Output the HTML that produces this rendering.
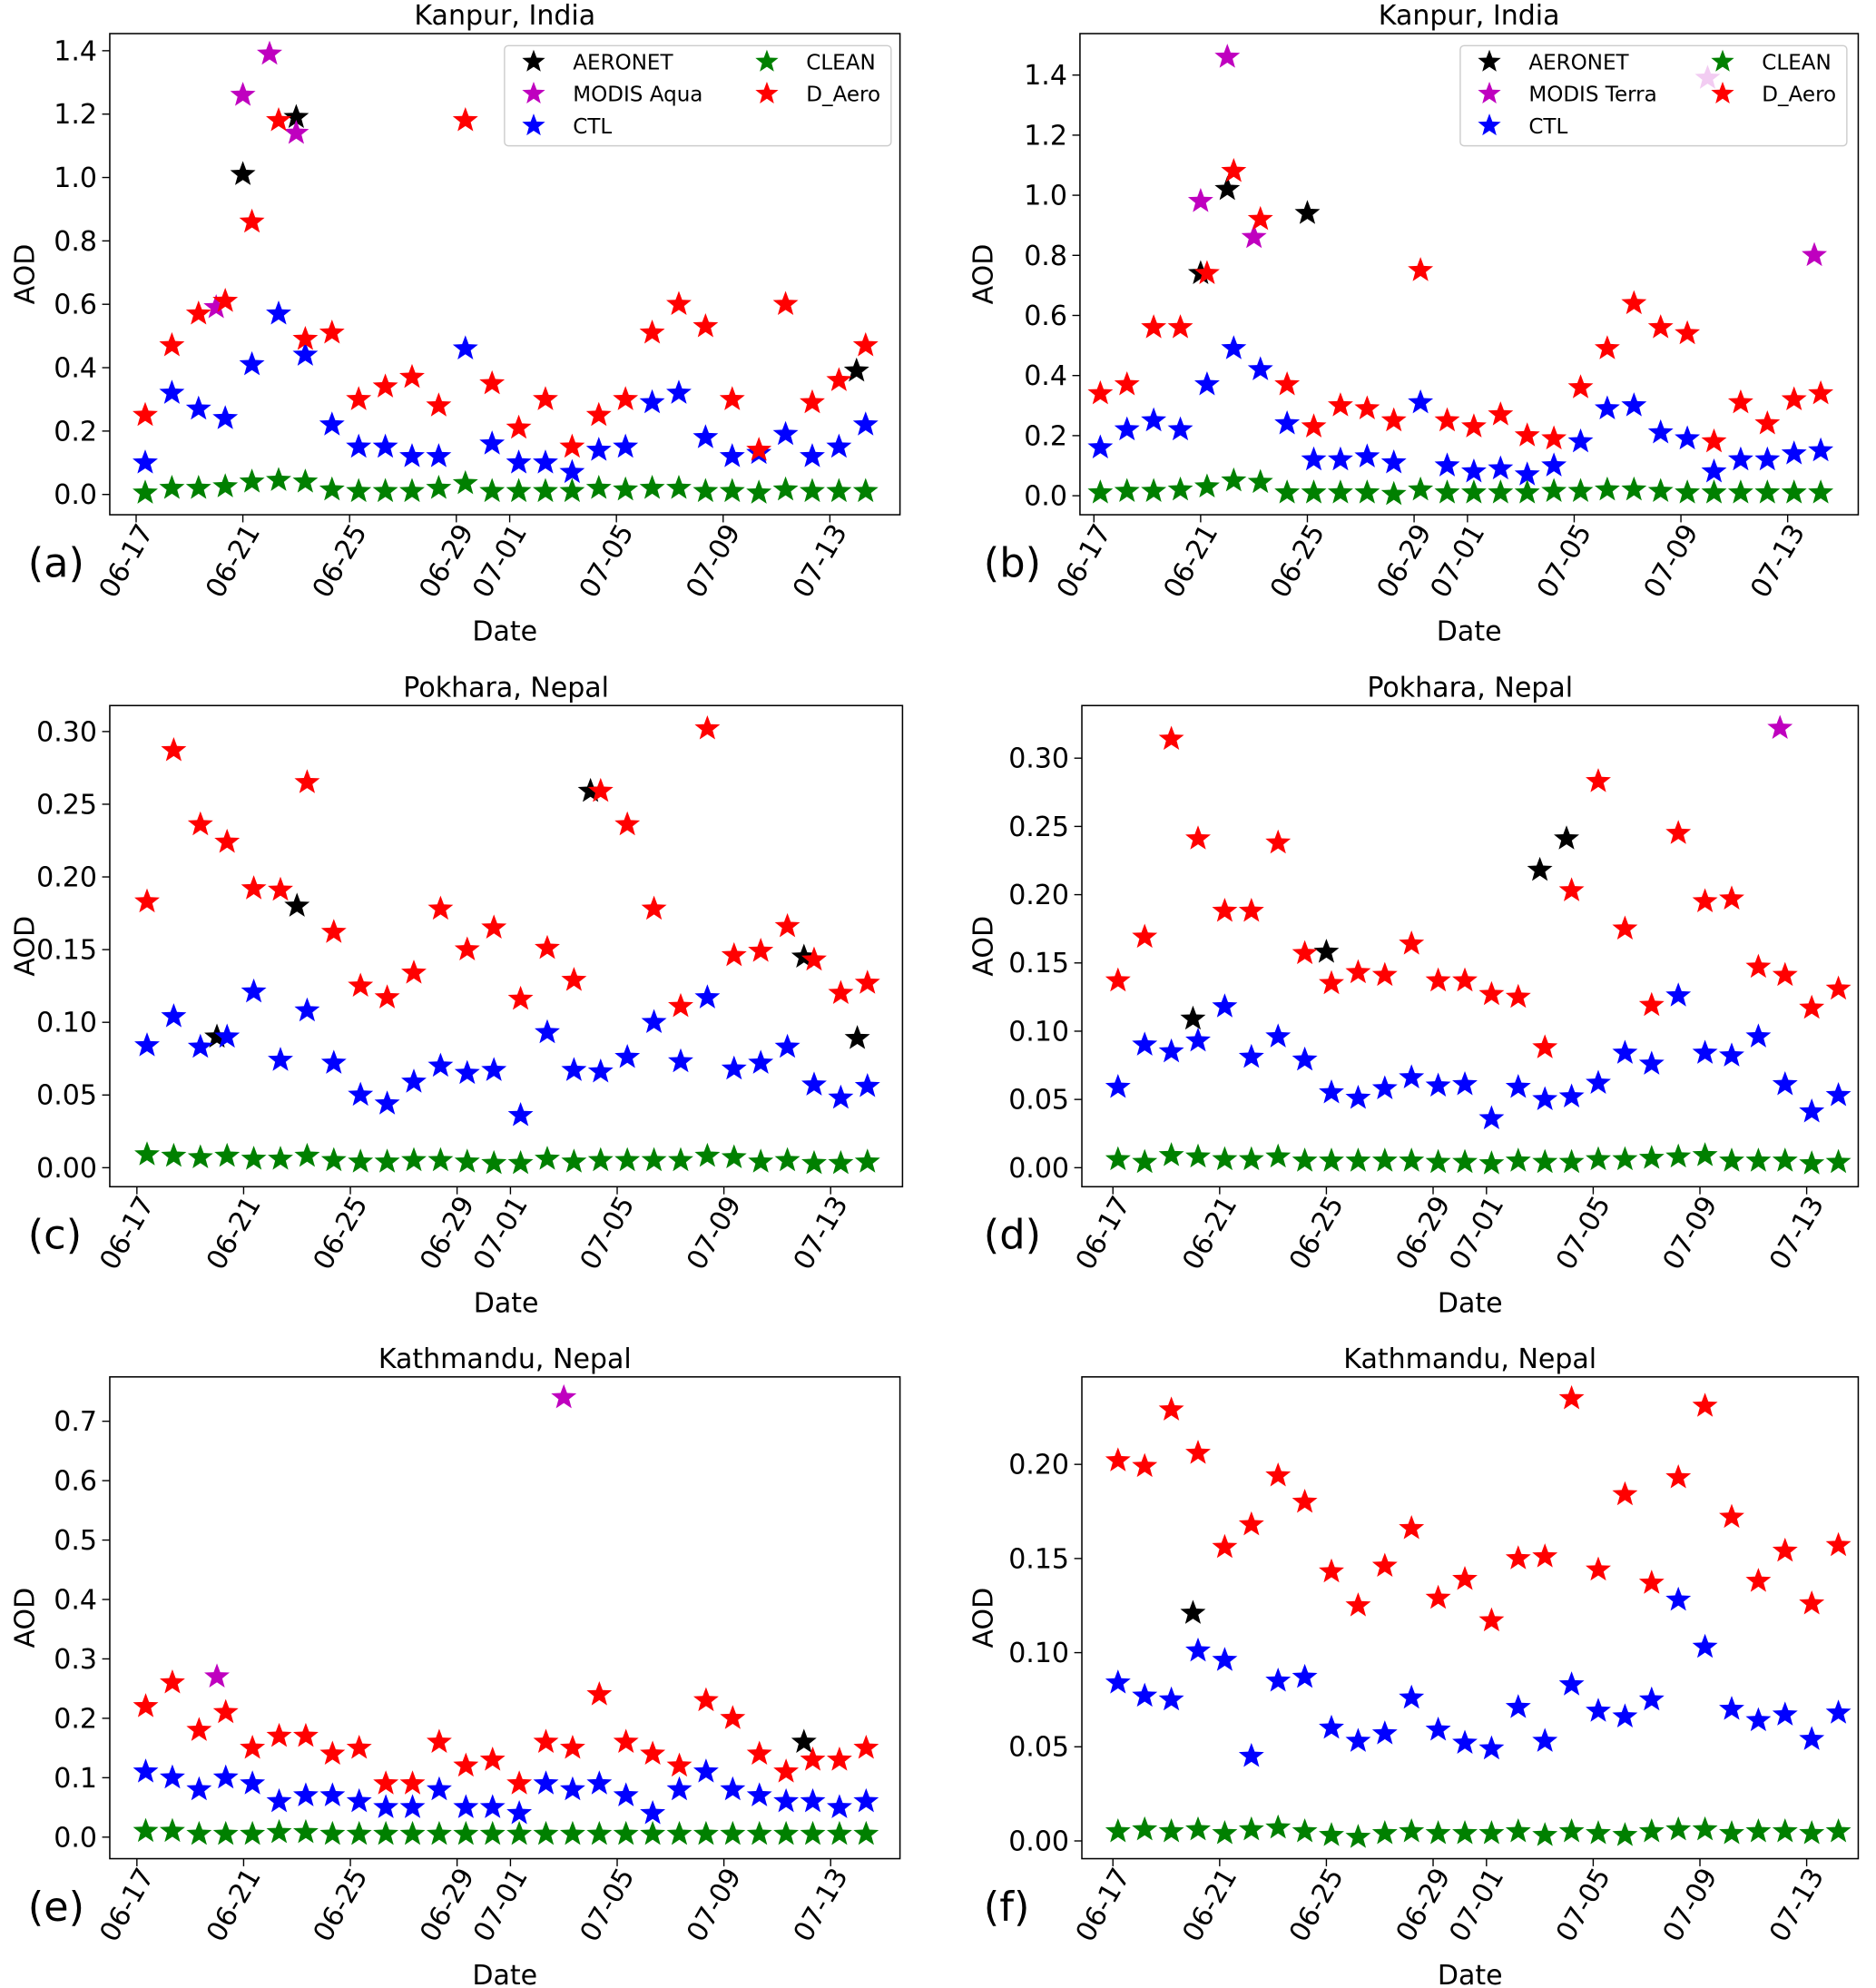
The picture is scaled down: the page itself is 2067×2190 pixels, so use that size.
<!DOCTYPE html>
<html><head><meta charset="utf-8"><style>
html,body{margin:0;padding:0;background:#fff;}
svg{display:block;font-family:"DejaVu Sans","Liberation Sans",sans-serif;}
</style></head><body>
<svg id="fig" width="2067" height="2190" viewBox="0 0 1480 1568" preserveAspectRatio="none" xmlns="http://www.w3.org/2000/svg"></svg>
<script>
// ---------- data ----------
const tickDays = [0,4,8,12,14,18,22,26];
const tickLabels = ["06-17","06-21","06-25","06-29","07-01","07-05","07-09","07-13"];

const aClean = [0.005,0.02,0.02,0.025,0.04,0.045,0.04,0.015,0.01,0.01,0.01,0.02,0.035,0.01,0.01,0.01,0.01,0.02,0.015,0.02,0.02,0.01,0.01,0.005,0.015,0.01,0.01,0.01];
const aCtl = [0.10,0.32,0.27,0.24,0.41,0.57,0.44,0.22,0.15,0.15,0.12,0.12,0.46,0.16,0.10,0.10,0.07,0.14,0.15,0.29,0.32,0.18,0.12,0.13,0.19,0.12,0.15,0.22];
const aDaero = [0.25,0.47,0.57,0.61,0.86,1.18,0.49,0.51,0.30,0.34,0.37,0.28,1.18,0.35,0.21,0.30,0.15,0.25,0.30,0.51,0.60,0.53,0.30,0.14,0.60,0.29,0.36,0.47];
const aAeroDays = [4,6,27];
const aAeroVals = [1.01,1.19,0.39];
const aModisDays = [3,4,5,6];
const aModisVals = [0.59,1.26,1.39,1.14];

const bClean = [0.01,0.015,0.015,0.02,0.03,0.05,0.045,0.01,0.01,0.01,0.01,0.005,0.02,0.01,0.01,0.01,0.01,0.015,0.015,0.02,0.02,0.015,0.01,0.01,0.01,0.01,0.01,0.01];
const bCtl = [0.16,0.22,0.25,0.22,0.37,0.49,0.42,0.24,0.12,0.12,0.13,0.11,0.31,0.10,0.08,0.09,0.07,0.10,0.18,0.29,0.30,0.21,0.19,0.08,0.12,0.12,0.14,0.15];
const bDaero = [0.34,0.37,0.56,0.56,0.74,1.08,0.92,0.37,0.23,0.30,0.29,0.25,0.75,0.25,0.23,0.27,0.20,0.19,0.36,0.49,0.64,0.56,0.54,0.18,0.31,0.24,0.32,0.34];
const bAeroDays = [4,5,8];
const bAeroVals = [0.74,1.02,0.94];
const bModisDays = [4,5,6,23,27];
const bModisVals = [0.98,1.46,0.86,1.39,0.80];

const cClean = [0.009,0.008,0.007,0.008,0.006,0.006,0.008,0.005,0.004,0.004,0.005,0.005,0.004,0.003,0.003,0.006,0.004,0.005,0.005,0.005,0.005,0.008,0.007,0.004,0.005,0.003,0.003,0.004];
const cCtl = [0.084,0.104,0.083,0.090,0.121,0.074,0.108,0.072,0.050,0.044,0.059,0.070,0.065,0.067,0.036,0.093,0.067,0.066,0.076,0.100,0.073,0.117,0.068,0.072,0.083,0.057,0.048,0.056];
const cDaero = [0.183,0.287,0.236,0.224,0.192,0.191,0.265,0.162,0.125,0.117,0.134,0.178,0.150,0.165,0.116,0.151,0.129,0.259,0.236,0.178,0.111,0.302,0.146,0.149,0.166,0.143,0.120,0.127];
const cAeroDays = [3,6,17,25,27];
const cAeroVals = [0.090,0.180,0.259,0.145,0.089];
const cModisDays = [];
const cModisVals = [];

const dClean = [0.006,0.004,0.009,0.008,0.006,0.006,0.008,0.005,0.005,0.005,0.005,0.005,0.004,0.004,0.003,0.005,0.004,0.004,0.006,0.006,0.007,0.008,0.009,0.005,0.005,0.005,0.003,0.004];
const dCtl = [0.059,0.090,0.085,0.093,0.118,0.081,0.096,0.079,0.055,0.051,0.058,0.066,0.060,0.061,0.036,0.059,0.050,0.052,0.062,0.084,0.076,0.126,0.084,0.082,0.096,0.061,0.041,0.053];
const dDaero = [0.137,0.169,0.314,0.241,0.188,0.188,0.238,0.157,0.135,0.143,0.141,0.164,0.137,0.137,0.127,0.125,0.088,0.203,0.283,0.175,0.119,0.245,0.195,0.197,0.147,0.141,0.117,0.131];
const dAeroDays = [3,8,16,17];
const dAeroVals = [0.109,0.158,0.218,0.241];
const dModisDays = [25];
const dModisVals = [0.322];

const eClean = [0.01,0.01,0.005,0.005,0.005,0.008,0.008,0.005,0.005,0.005,0.005,0.005,0.005,0.005,0.005,0.005,0.005,0.005,0.005,0.005,0.005,0.005,0.005,0.005,0.005,0.005,0.005,0.005];
const eCtl = [0.11,0.10,0.08,0.10,0.09,0.06,0.07,0.07,0.06,0.05,0.05,0.08,0.05,0.05,0.04,0.09,0.08,0.09,0.07,0.04,0.08,0.11,0.08,0.07,0.06,0.06,0.05,0.06];
const eDaero = [0.22,0.26,0.18,0.21,0.15,0.17,0.17,0.14,0.15,0.09,0.09,0.16,0.12,0.13,0.09,0.16,0.15,0.24,0.16,0.14,0.12,0.23,0.20,0.14,0.11,0.13,0.13,0.15];
const eAeroDays = [25];
const eAeroVals = [0.16];
const eModisDays = [3,16];
const eModisVals = [0.27,0.74];

const fClean = [0.005,0.006,0.005,0.006,0.004,0.006,0.007,0.005,0.003,0.002,0.004,0.005,0.004,0.004,0.004,0.005,0.003,0.005,0.004,0.003,0.005,0.006,0.006,0.004,0.005,0.005,0.004,0.005];
const fCtl = [0.084,0.077,0.075,0.101,0.096,0.045,0.085,0.087,0.060,0.053,0.057,0.076,0.059,0.052,0.049,0.071,0.053,0.083,0.069,0.066,0.075,0.128,0.103,0.070,0.064,0.067,0.054,0.068];
const fDaero = [0.202,0.199,0.229,0.206,0.156,0.168,0.194,0.180,0.143,0.125,0.146,0.166,0.129,0.139,0.117,0.150,0.151,0.235,0.144,0.184,0.137,0.193,0.231,0.172,0.138,0.154,0.126,0.157];
const fAeroDays = [3];
const fAeroVals = [0.121];
const fModisDays = [];
const fModisVals = [];

const aYTicks = [0,0.2,0.4,0.6,0.8,1.0,1.2,1.4];
const cYTicks = [0,0.05,0.10,0.15,0.20,0.25,0.30];
const eYTicks = [0,0.1,0.2,0.3,0.4,0.5,0.6,0.7];
const fYTicks = [0,0.05,0.10,0.15,0.20];

// ---------- rendering ----------
const NS = "http://www.w3.org/2000/svg";
const fig = document.getElementById('fig');
function mk(tag, attrs, parent){
  const e = document.createElementNS(NS, tag);
  for (const k in attrs) e.setAttribute(k, attrs[k]);
  (parent||fig).appendChild(e);
  return e;
}
function starPts(cx, cy, R){
  const r = R*0.42; let p = [];
  for (let i=0;i<10;i++){
    const ang = -Math.PI/2 + i*Math.PI/5;
    const rr = i%2===0 ? R : r;
    p.push((cx+rr*Math.cos(ang)).toFixed(2)+','+(cy+rr*Math.sin(ang)).toFixed(2));
  }
  return p.join(' ');
}
const COL = {aero:'#000000', modis:'#bf00bf', ctl:'#0000ff', clean:'#008000', daero:'#ff0000'};
const FS = 21.5;

const panels = [
 {id:'a', side:0, L:86.6, R:710, T:26.5, B:406, t0:107.4, off:0.34, y0:390, yk:250, yt:aYTicks, dec:1, title:'Kanpur, India',
  clean:aClean, ctl:aCtl, daero:aDaero, aeroD:aAeroDays, aeroV:aAeroVals, modD:aModisDays, modV:aModisVals, modis:'MODIS Aqua', legend:[398,703,36,115]},
 {id:'b', side:1, L:852, R:1466, T:26.5, B:406, t0:863, off:0.24, y0:391, yk:237, yt:aYTicks, dec:1, title:'Kanpur, India',
  clean:bClean, ctl:bCtl, daero:bDaero, aeroD:bAeroDays, aeroV:bAeroVals, modD:bModisDays, modV:bModisVals, modis:'MODIS Terra', legend:[1152,1457,36,115]},
 {id:'c', side:0, L:86.6, R:712, T:556.5, B:936, t0:108, off:0.38, y0:921, yk:1146.7, yt:cYTicks, dec:2, title:'Pokhara, Nepal',
  clean:cClean, ctl:cCtl, daero:cDaero, aeroD:cAeroDays, aeroV:cAeroVals, modD:cModisDays, modV:cModisVals},
 {id:'d', side:1, L:853.5, R:1466, T:556.5, B:936, t0:878, off:0.19, y0:921, yk:1076.7, yt:cYTicks, dec:2, title:'Pokhara, Nepal',
  clean:dClean, ctl:dCtl, daero:dDaero, aeroD:dAeroDays, aeroV:dAeroVals, modD:dModisDays, modV:dModisVals},
 {id:'e', side:0, L:86.6, R:710, T:1086, B:1466, t0:108, off:0.33, y0:1449, yk:468.6, yt:eYTicks, dec:1, title:'Kathmandu, Nepal',
  clean:eClean, ctl:eCtl, daero:eDaero, aeroD:eAeroDays, aeroV:eAeroVals, modD:eModisDays, modV:eModisVals},
 {id:'f', side:1, L:853.5, R:1466, T:1086, B:1466, t0:878, off:0.19, y0:1452, yk:1485, yt:fYTicks, dec:2, title:'Kathmandu, Nepal',
  clean:fClean, ctl:fCtl, daero:fDaero, aeroD:fAeroDays, aeroV:fAeroVals, modD:fModisDays, modV:fModisVals},
];
const PPD = 21.05;

panels.forEach(p=>{
  const g = mk('g', {});
  
  
  const xs = d => p.t0 + d*PPD;
  const ys = v => p.y0 - v*p.yk;

  const t = mk('text', {x:(p.L+p.R)/2, y:p.T-7, 'text-anchor':'middle', 'font-size':FS, fill:'#000'}, g);
  t.textContent = p.title;
  
  

  const pl = mk('text', {x:p.side ? 776 : 22, y:p.B+49, 'font-size':32, fill:'#000'}, g);
  pl.textContent = '('+p.id+')';
  
  

  const yx = p.side ? 783 : 27;
  const yl = mk('text', {x:0, y:0, 'text-anchor':'middle', 'font-size':FS, transform:`translate(${yx},${(p.T+p.B)/2}) rotate(-90)`}, g);
  yl.textContent = 'AOD';
  
  

  const xl = mk('text', {x:(p.L+p.R)/2, y:p.B+99, 'text-anchor':'middle', 'font-size':FS}, g);
  xl.textContent = 'Date';
  
  

  p.yt.forEach(v=>{
    const y = ys(v);
    const tk = mk('line', {x1:p.L-6, x2:p.L, y1:y, y2:y, stroke:'#000', 'stroke-width':1}, g);
    
    
    const tl = mk('text', {x:p.L-10, y:y+7.5, 'text-anchor':'end', 'font-size':FS}, g);
    tl.textContent = v.toFixed(p.dec);
    
    
  });
  tickDays.forEach((d,i)=>{
    const x = xs(d);
    const tk = mk('line', {x1:x, x2:x, y1:p.B, y2:p.B+6, stroke:'#000', 'stroke-width':1}, g);
    
    
    const tl = mk('text', {x:0, y:0, 'text-anchor':'end', 'font-size':FS, transform:`translate(${x+14},${p.B+13}) rotate(-60)`}, g);
    tl.textContent = tickLabels[i];
    
    
  });

  const R = 10.5;
  function drawObs(days, vals, col, name){
    days.forEach((d,i)=>{
      const s = mk('polygon', {points:starPts(xs(d), ys(vals[i]), R), fill:col}, g);
      
      
    });
  }
  function drawModel(vals, col, name){
    vals.forEach((v,i)=>{
      const s = mk('polygon', {points:starPts(xs(i+p.off), ys(v), R), fill:col}, g);
      
      
    });
  }
  drawObs(p.aeroD, p.aeroV, COL.aero, 'aeronet');
  drawObs(p.modD, p.modV, COL.modis, 'modis');
  drawModel(p.ctl, COL.ctl, 'ctl');
  drawModel(p.clean, COL.clean, 'clean');
  drawModel(p.daero, COL.daero, 'd-aero');

  const fr = mk('rect', {x:p.L, y:p.T, width:p.R-p.L, height:p.B-p.T, fill:'none', stroke:'#000', 'stroke-width':1.1}, g);
  
  

  if (p.legend){
    const [lx, rx, ty, by] = p.legend;
    const lg = mk('g', {}, g);
    
    
    mk('rect', {x:lx, y:ty, width:rx-lx, height:by-ty, rx:3, fill:'#fff', 'fill-opacity':0.8, stroke:'#cccccc', 'stroke-width':1}, lg);
    const entries = [
      ['AERONET', COL.aero, 0, 0], [p.modis, COL.modis, 0, 1], ['CTL', COL.ctl, 0, 2],
      ['CLEAN', COL.clean, 1, 0], ['D_Aero', COL.daero, 1, 1]
    ];
    entries.forEach(en=>{
      const sx = lx + (en[2] ? 207 : 23);
      const y = ty + 12.7 + en[3]*25.2;
      const eg = mk('g', {}, lg);
      
      
      mk('polygon', {points:starPts(sx, y, 9.5), fill:en[1]}, eg);
      const tx = mk('text', {x:sx+31, y:y+6, 'font-size':16.5}, eg);
      tx.textContent = en[0];
    });
  }
});
</script>
</body></html>
